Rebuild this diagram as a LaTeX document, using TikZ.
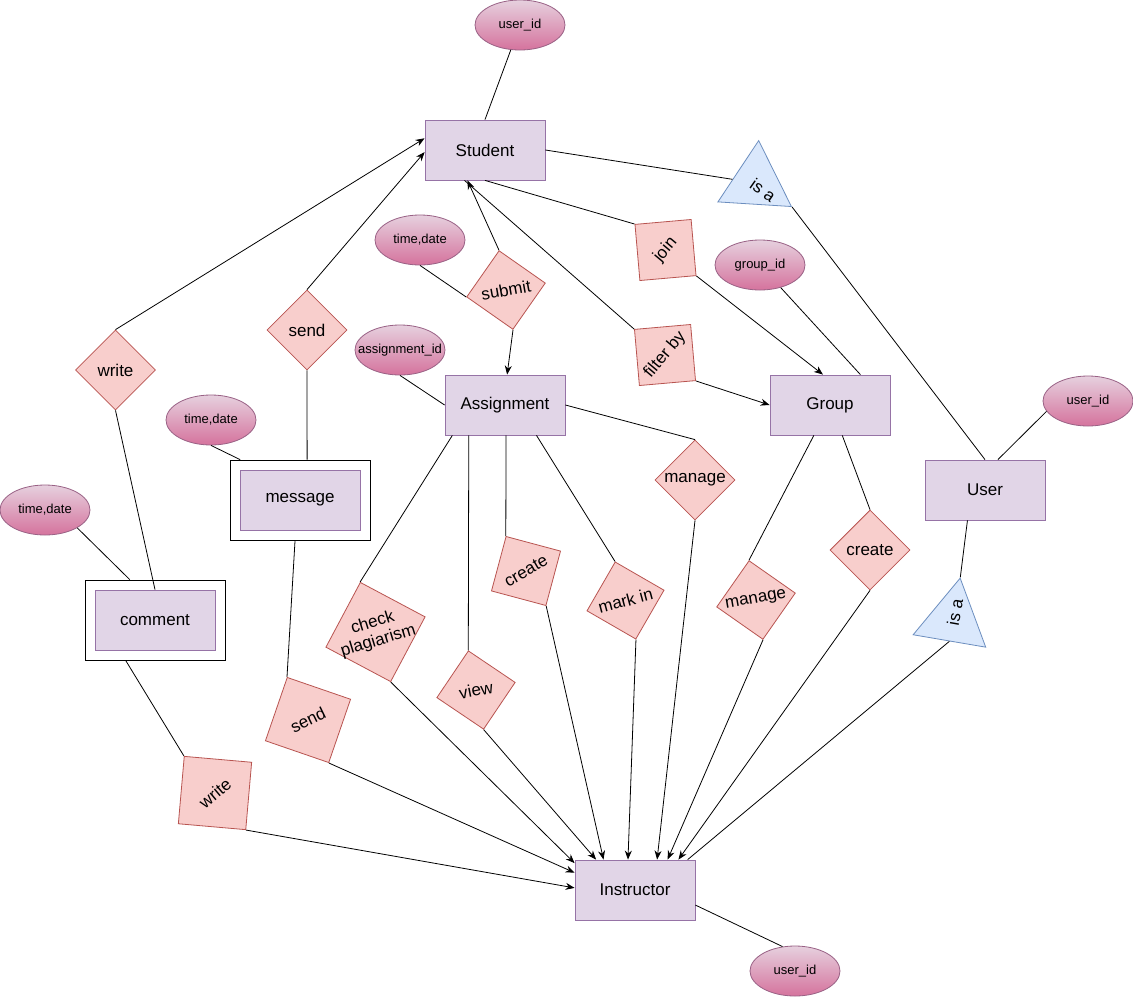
\documentclass[tikz,border=0pt]{standalone}
\usepackage{fontspec}
\setmainfont{Liberation Sans}
\usetikzlibrary{shapes.geometric,arrows.meta}

\definecolor{entFill}{HTML}{E1D5E7}
\definecolor{entLine}{HTML}{9673A6}
\definecolor{relFill}{HTML}{F8CECC}
\definecolor{relLine}{HTML}{B85450}
\definecolor{attrTop}{HTML}{E6D0DE}
\definecolor{attrBot}{HTML}{D5739D}
\definecolor{attrLine}{HTML}{996185}
\definecolor{isaFill}{HTML}{DAE8FC}
\definecolor{isaLine}{HTML}{6C8EBF}

\tikzset{
  entity/.style={rectangle, draw=entLine, fill=entFill, minimum width=120pt,
    minimum height=60pt, inner sep=0pt, font=\fontsize{17pt}{20pt}\selectfont},
  weak/.style={rectangle, draw=black, fill=white, minimum width=140pt,
    minimum height=80pt, inner sep=0pt},
  attr/.style={ellipse, draw=attrLine, top color=attrTop, bottom color=attrBot,
    minimum width=90pt, minimum height=50pt, inner sep=-12pt,
    font=\fontsize{13pt}{15pt}\selectfont},
  rel/.style={diamond, aspect=1, draw=relLine, fill=relFill, minimum size=80pt,
    inner sep=-16pt, align=center, font=\fontsize{17pt}{19pt}\selectfont},
  isa/.style={regular polygon, regular polygon sides=3, draw=isaLine,
    fill=isaFill, minimum size=85pt, inner sep=0pt},
  isatext/.style={inner sep=0pt, font=\fontsize{17pt}{20pt}\selectfont},
}

\begin{document}
\begin{tikzpicture}[x=1pt, y=-1pt, line width=0.8pt, >={Stealth[length=9pt,width=7pt]}]

    \path[use as bounding box, fill=white] (0,0) rectangle (1133,997);

    % Entities
    \node[entity] (student) at (485,150) {Student};
    \node[entity] (assignment) at (505,405) {Assignment};
    \node[entity] (group) at (830,405) {Group};
    \node[entity] (user) at (985,490) {User};
    \node[entity] (instructor) at (635,890) {Instructor};
    \node[weak] (msgBox) at (300,500) {};
    \node[entity] (message) at (300,500) {message};
    \node[weak] (comBox) at (155,620) {};
    \node[entity] (comment) at (155,620) {comment};

    % Attributes
    \node[attr] (stuId) at (520,25) {user\_id};
    \node[attr] (subTime) at (420,240) {time,date};
    \node[attr] (grpId) at (760,265) {group\_id};
    \node[attr] (asgId) at (400,350) {assignment\_id};
    \node[attr] (msgTime) at (211,420) {time,date};
    \node[attr] (comTime) at (45,510) {time,date};
    \node[attr] (usrId) at (1088,401) {user\_id};
    \node[attr] (insId) at (795,971) {user\_id};

    % Relationships
    \node[rel] (writeS) at (115.5,370) {write};
    \node[rel] (sendS) at (307,330) {send};
    \node[rel, rotate=10] (submit) at (506,290) {submit};
    \node[rel, rotate=50] (join) at (665.5,250) {join};
    \node[rel, rotate=50] (filter) at (665,355) {filter by};
    \node[rel] (manageA) at (695,480) {manage};
    \node[rel, rotate=30] (createA) at (526,571) {create};
    \node[rel, rotate=15] (markIn) at (625.5,600.5) {mark in};
    \node[rel, rotate=17, minimum size=104pt] (plag) at (375.5,632) {check\\plagiarism};
    \node[rel, rotate=11] (view) at (476,690) {view};
    \node[rel, rotate=10] (manageG) at (756,600) {manage};
    \node[rel] (createG) at (870,550) {create};
    \node[rel, rotate=26, minimum size=95pt] (sendI) at (308,720) {send};
    \node[rel, rotate=40, minimum size=96pt] (writeI) at (215,793) {write};

    % Specialisation
    \node[isa, shape border rotate=-3.6] (isaS) at (756,183) {};
    \node[isatext, rotate=-35] (isaSText) at (763,190) {is a};
    \node[isa, shape border rotate=-9.7] (isaI) at (953,620) {};
    \node[isatext, rotate=80] (isaIText) at (955,612) {is a};

    % Student
    \draw (stuId) -- (student.north);
    \draw (student.east) -- (isaS);
    \draw (isaS.corner 3) -- (user.north);
    \draw (student.south) -- (join.north);
    \draw[->] (join.south) -- (group.103);
    \draw (student.236) -- (filter.north);
    \draw[->] (filter.south) -- (group.west);
    \draw[->] (submit.north) -- (student.240);
    \draw[->] (submit.south) -- (assignment.86);
    \draw (subTime.south) -- (submit.west);
    \draw[->] (writeS.north) -- (student.169);
    \draw[->] (sendS.north) -- (student.182);

    % Comment and message
    \draw (writeS.south) -- (comment.north);
    \draw (comTime.-29) -- (comBox.122);
    \draw (comBox.234) -- (writeI.north);
    \draw[->] (writeI.south) -- (instructor.178);
    \draw (sendS.south) -- (msgBox.80);
    \draw (msgTime.south) -- (msgBox.146);
    \draw (msgBox.263) -- (sendI.north);
    \draw[->] (sendI.south) -- (instructor.164);

    % Assignment
    \draw (asgId.south) -- (assignment.west);
    \draw (assignment.210) -- (plag.north);
    \draw[->] (plag.south) -- (instructor.156);
    \draw (assignment.220) -- (view.north);
    \draw[->] (view.south) -- (instructor.142);
    \draw (assignment.272) -- (createA.north);
    \draw[->] (createA.south) -- (instructor.136);
    \draw (assignment.-44) -- (markIn.north);
    \draw[->] (markIn.south) -- (instructor.103);
    \draw (assignment.east) -- (manageA.north);
    \draw[->] (manageA.south) -- (instructor.54);

    % Group
    \draw (grpId) -- (group.45);
    \draw (group.242) -- (manageG.north);
    \draw[->] (manageG.south) -- (instructor.43);
    \draw (group.292) -- (createG.north);
    \draw[->] (createG.south) -- (instructor.35);

    % User and Instructor
    \draw (user.67) -- (usrId.194);
    \draw (user.240) -- (isaI.corner 1);
    \draw (isaI.side 2) -- (instructor.30);
    \draw (instructor.-14) -- (insId.117);
\end{tikzpicture}
\end{document}
